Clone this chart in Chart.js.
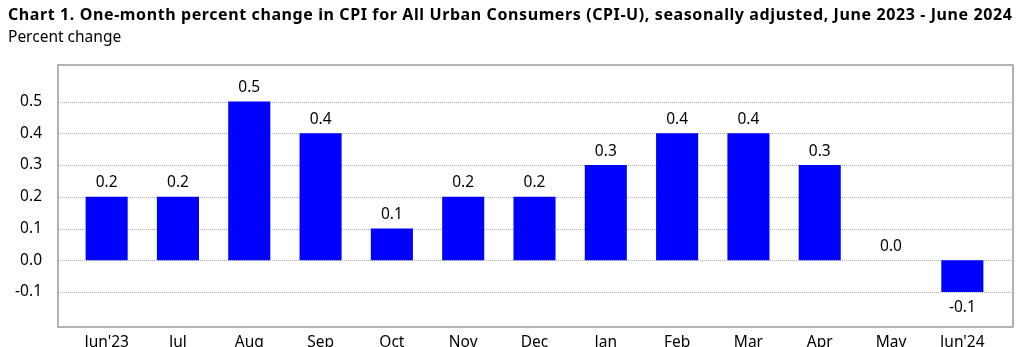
<!DOCTYPE html>
<html>
<head>
<meta charset="utf-8">
<script src="https://cdn.jsdelivr.net/npm/chart.js@4"></script>
<style>
  body { margin: 0; background: #fff; }
  #wrap { position: relative; width: 1018px; height: 347px; overflow: hidden; }
  #title { position: absolute; left: 8px; top: 3px; font: bold 16px "Noto Sans", sans-serif; letter-spacing: 0.6px; color: #000; white-space: nowrap; }
  #sub { position: absolute; left: 8px; top: 25px; font: 15.5px "Noto Sans", sans-serif; color: #000; }
  canvas { position: absolute; left: 0; top: 0; }
</style>
</head>
<body>
<div id="wrap">
  <canvas id="chart" width="1018" height="347"></canvas>
  <div id="title">Chart 1. One-month percent change in CPI for All Urban Consumers (CPI-U), seasonally adjusted, June 2023 - June 2024</div>
  <div id="sub">Percent change</div>
</div>
<script>
const months = ["Jun'23", 'Jul', 'Aug', 'Sep', 'Oct', 'Nov', 'Dec', 'Jan', 'Feb', 'Mar', 'Apr', 'May', "Jun'24"];
const changes = [0.2, 0.2, 0.5, 0.4, 0.1, 0.2, 0.2, 0.3, 0.4, 0.4, 0.3, 0.0, -0.1];
const yTicks = [-0.1, 0.0, 0.1, 0.2, 0.3, 0.4, 0.5];

// frame sits a bit outside the category range
const FRAME_LEFT = 58, FRAME_RIGHT = 1013;

const framePlugin = {
  id: 'frame',
  beforeDatasetsDraw(chart) {
    const ctx = chart.ctx;
    const y = chart.scales.y;
    ctx.save();
    ctx.strokeStyle = '#b0b0b0';
    ctx.lineWidth = 1;
    ctx.setLineDash([1, 1]);
    yTicks.forEach(v => {
      const py = Math.round(y.getPixelForValue(v)) + 0.5;
      ctx.beginPath();
      ctx.moveTo(FRAME_LEFT, py);
      ctx.lineTo(FRAME_RIGHT, py);
      ctx.stroke();
    });
    ctx.restore();
  },
  afterDatasetsDraw(chart) {
    const ctx = chart.ctx;
    const a = chart.chartArea;
    const meta = chart.getDatasetMeta(0);
    ctx.save();
    ctx.font = '15.5px "Noto Sans", sans-serif';
    ctx.fillStyle = '#000';
    ctx.textAlign = 'center';
    meta.data.forEach((bar, i) => {
      const v = changes[i];
      if (v < 0) {
        ctx.textBaseline = 'top';
        ctx.fillText(v.toFixed(1), bar.x, bar.y + 8);
      } else {
        ctx.textBaseline = 'bottom';
        ctx.fillText(v.toFixed(1), bar.x, bar.y - 6);
      }
    });
    ctx.strokeStyle = '#999';
    ctx.lineWidth = 1.5;
    ctx.strokeRect(FRAME_LEFT, a.top, FRAME_RIGHT - FRAME_LEFT, a.bottom - a.top);
    ctx.restore();
  }
};

new Chart(document.getElementById('chart'), {
  type: 'bar',
  data: {
    labels: months,
    datasets: [{
      data: changes,
      backgroundColor: '#0000ff',
      borderWidth: 0,
      categoryPercentage: 1,
      barPercentage: 0.59
    }]
  },
  options: {
    responsive: false,
    animation: false,
    layout: { padding: { top: 65, right: 20, left: 0, bottom: 0 } },
    plugins: { legend: { display: false }, tooltip: { enabled: false } },
    scales: {
      x: {
        grid: { display: false },
        border: { display: false },
        ticks: { color: '#000', font: { family: 'Noto Sans', size: 15.5 }, padding: -2, maxRotation: 0, autoSkip: false },
        afterFit(scale) { scale.height = 20; scale.paddingLeft = 0; scale.paddingRight = 0; }
      },
      y: {
        min: -0.21,
        max: 0.615,
        afterBuildTicks(scale) { scale.ticks = yTicks.map(v => ({ value: v })); },
        grid: { display: false },
        border: { display: false },
        ticks: {
          color: '#000',
          font: { family: 'Noto Sans', size: 15.5 },
          padding: 21,
          callback: v => v.toFixed(1)
        },
        afterFit(scale) { scale.width = 71; scale.paddingTop = 0; scale.paddingBottom = 0; }
      }
    }
  },
  plugins: [framePlugin]
});
</script>
</body>
</html>
